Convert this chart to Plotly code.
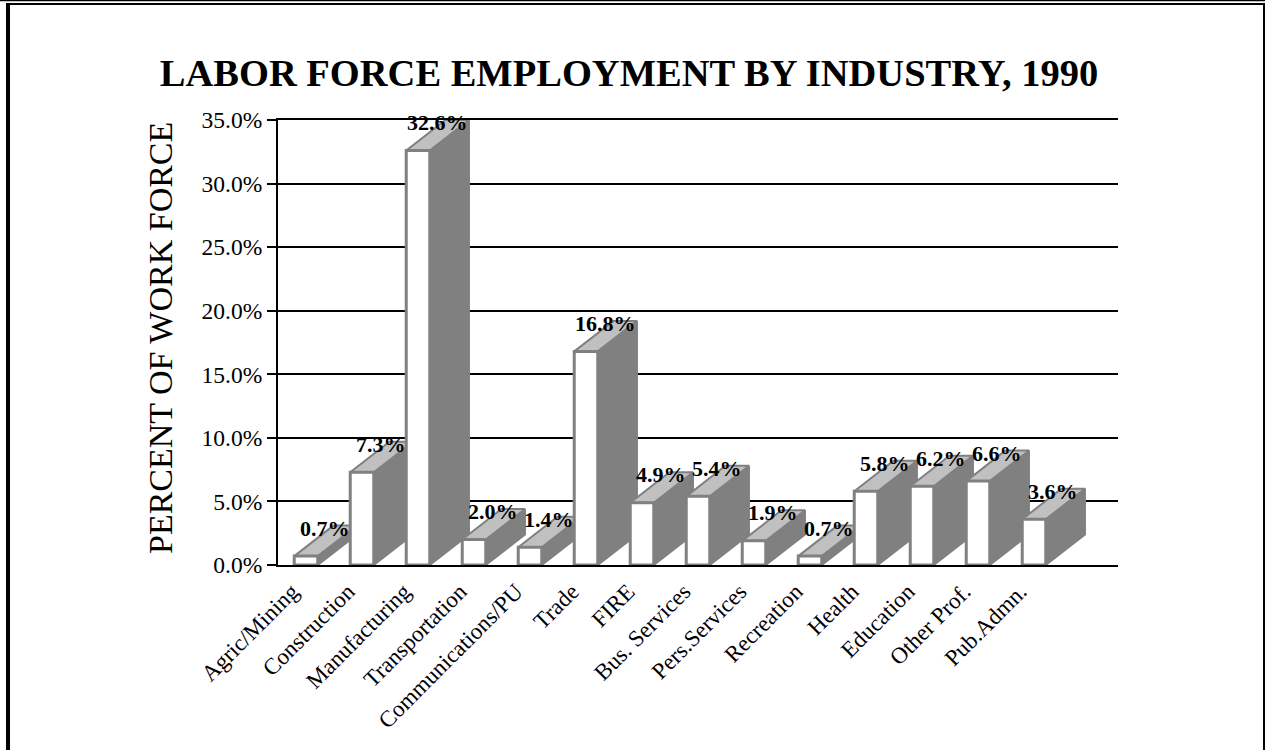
import plotly.graph_objects as go

# Share of the work force employed in each industry, 1990 (percent)
industries = [
    "Agric/Mining", "Construction", "Manufacturing", "Transportation",
    "Communications/PU", "Trade", "FIRE", "Bus. Services", "Pers.Services",
    "Recreation", "Health", "Education", "Other Prof.", "Pub.Admn.",
]
shares = [0.7, 7.3, 32.6, 2.0, 1.4, 16.8, 4.9, 5.4, 1.9, 0.7, 5.8, 6.2, 6.6, 3.6]
y_ticks = [0, 5, 10, 15, 20, 25, 30, 35]

SERIF = "Liberation Serif, Times New Roman, serif"
EDGE = "#808080"
SIDE = "#808080"
TOP = "#c0c0c0"

# pseudo-3D column geometry (data units)
HALF_W = 0.21   # half width of the front face
DEPTH_X = 0.70  # horizontal depth offset
DEPTH_Y = 2.4   # vertical depth offset
LABEL_SHIFT = 0.25  # rotated category labels sit slightly left of the column

fig = go.Figure()

for i, v in enumerate(shares):
    xl, xr = i - HALF_W, i + HALF_W
    # right side face
    fig.add_trace(go.Scatter(
        x=[xr, xr + DEPTH_X, xr + DEPTH_X, xr, xr],
        y=[0, DEPTH_Y, v + DEPTH_Y, v, 0],
        mode="lines", fill="toself", fillcolor=SIDE,
        line=dict(color=EDGE, width=2), hoverinfo="skip", showlegend=False,
    ))
    # top face
    fig.add_trace(go.Scatter(
        x=[xl, xl + DEPTH_X, xr + DEPTH_X, xr, xl],
        y=[v, v + DEPTH_Y, v + DEPTH_Y, v, v],
        mode="lines", fill="toself", fillcolor=TOP,
        line=dict(color=EDGE, width=2), hoverinfo="skip", showlegend=False,
    ))
    # front face
    fig.add_trace(go.Scatter(
        x=[xl, xl, xr, xr, xl],
        y=[0, v, v, 0, 0],
        mode="lines", fill="toself", fillcolor="white",
        line=dict(color=EDGE, width=3), hoverinfo="skip", showlegend=False,
        name=industries[i],
    ))

# value labels above each column
annotations = [
    dict(x=i + 0.34, y=v + 2.2, xref="x", yref="y", text=f"{v:.1f}%",
         showarrow=False, xanchor="center", yanchor="middle",
         font=dict(family=SERIF, size=22, color="black", weight="bold"))
    for i, v in enumerate(shares)
]

# y-axis title
annotations.append(dict(
    x=(160 - 278) / 840, y=(565 - 338) / 445, xref="paper", yref="paper",
    text="PERCENT OF WORK FORCE", textangle=-90, showarrow=False,
    xanchor="center", yanchor="middle",
    font=dict(family=SERIF, size=34, color="black"),
))


def px_x(X):
    return (X - 278) / 840


def px_y(Y):
    return (565 - Y) / 445


# page frame
frame = [
    dict(type="line", xref="paper", yref="paper",
         x0=px_x(0), x1=px_x(1265), y0=px_y(0.5), y1=px_y(0.5),
         line=dict(color="black", width=1.5)),
    dict(type="line", xref="paper", yref="paper",
         x0=px_x(6), x1=px_x(1265), y0=px_y(4), y1=px_y(4),
         line=dict(color="black", width=2)),
    dict(type="line", xref="paper", yref="paper",
         x0=px_x(8), x1=px_x(8), y0=px_y(3), y1=px_y(752),
         line=dict(color="black", width=4)),
    dict(type="line", xref="paper", yref="paper",
         x0=px_x(1264), x1=px_x(1264), y0=px_y(3), y1=px_y(752),
         line=dict(color="black", width=2)),
]

fig.update_layout(
    width=1265, height=750,
    margin=dict(l=278, r=147, t=120, b=185),
    paper_bgcolor="white", plot_bgcolor="white",
    title=dict(
        text="<b>LABOR FORCE EMPLOYMENT BY INDUSTRY, 1990</b>",
        x=629 / 1265, xanchor="center", xref="container",
        y=1 - 73 / 750, yanchor="middle", yref="container",
        font=dict(family=SERIF, size=38.5, color="black"),
    ),
    annotations=annotations,
    shapes=frame,
    showlegend=False,
)

fig.update_xaxes(
    range=[-0.5, 14.5],
    tickmode="array",
    tickvals=[i - LABEL_SHIFT for i in range(len(industries))],
    ticktext=industries,
    tickangle=-45, ticks="outside", ticklen=2, tickcolor="rgba(0,0,0,0)",
    showgrid=False, zeroline=False,
    showline=True, mirror=True, linecolor="black", linewidth=2,
    layer="below traces",
    tickfont=dict(family=SERIF, size=23, color="black"),
)

fig.update_yaxes(
    range=[0, 35], tickmode="array", tickvals=y_ticks,
    ticktext=[f"{t:.1f}%" for t in y_ticks],
    showgrid=True, gridcolor="black", gridwidth=2, zeroline=False,
    showline=True, linecolor="black", linewidth=2,
    ticks="outside", ticklen=9, tickwidth=2, tickcolor="black",
    layer="below traces",
    tickfont=dict(family=SERIF, size=23.5, color="black"),
)

fig.write_html("out.html")
